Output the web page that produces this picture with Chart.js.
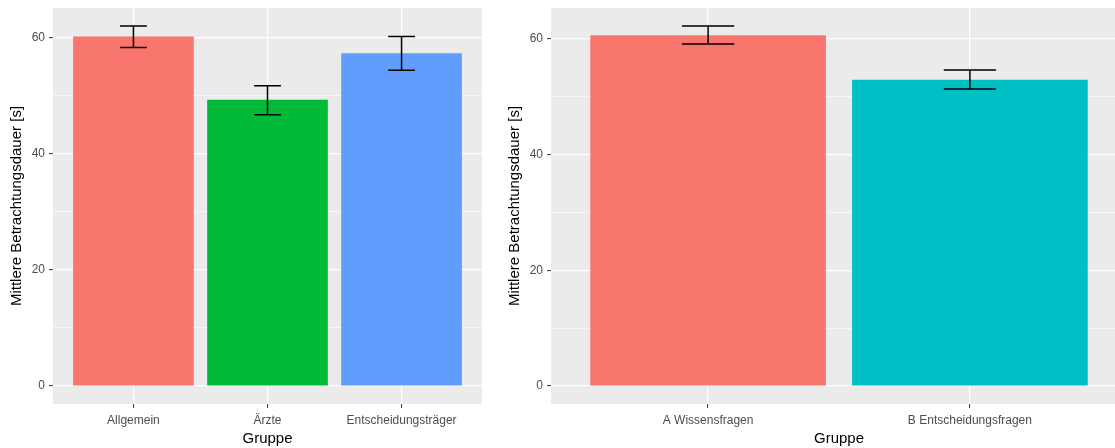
<!DOCTYPE html>
<html lang="de">
<head>
<meta charset="utf-8">
<title>Mittlere Betrachtungsdauer nach Gruppe</title>
<script src="https://cdn.jsdelivr.net/npm/chart.js@4/dist/chart.umd.min.js"></script>
<style>
  html, body { margin: 0; padding: 0; background: #ffffff; }
  body { width: 1115px; height: 448px; overflow: hidden; position: relative; }
  canvas { position: absolute; top: 0; }
  #left { left: 0; }
  #right { left: 498px; }
</style>
</head>
<body>
<canvas id="left" width="490" height="448"></canvas>
<canvas id="right" width="640" height="448"></canvas>
<script>
// Gruppen (links)
const groupsLeft = ['Allgemein', 'Ärzte', 'Entscheidungsträger'];
const meansLeft = [60.2, 49.3, 57.3];
const lowerLeft = [58.3, 46.7, 54.4];
const upperLeft = [62.0, 51.7, 60.2];
const colorsLeft = ['#F8766D', '#00BA38', '#619CFF'];

// Fragetypen (rechts)
const groupsRight = ['A Wissensfragen', 'B Entscheidungsfragen'];
const meansRight = [60.6, 52.9];
const lowerRight = [59.1, 51.3];
const upperRight = [62.2, 54.6];
const colorsRight = ['#F8766D', '#00BFC4'];

// Achsenbeschriftung
const yTicks = [0, 20, 40, 60];
const yMinorTicks = [10, 30, 50];
const yTitle = 'Mittlere Betrachtungsdauer [s]';
const xTitle = 'Gruppe';

const FONT = '"Liberation Sans", Arial, sans-serif';

// grey panel behind the plot area
const panelBg = {
  id: 'panelBg',
  beforeDraw(chart) {
    const { ctx, chartArea: a } = chart;
    ctx.save();
    ctx.fillStyle = '#ffffff';
    ctx.fillRect(0, 0, chart.width, chart.height);
    ctx.fillStyle = '#EBEBEB';
    ctx.fillRect(a.left, a.top, a.right - a.left, a.bottom - a.top);
    ctx.restore();
  }
};

// error bars (mean ± interval) with caps of 0.2 category widths
const errorBars = {
  id: 'errorBars',
  afterDatasetsDraw(chart, args, opts) {
    const { ctx } = chart;
    const xs = chart.scales.x, ys = chart.scales.y;
    ctx.save();
    ctx.strokeStyle = '#000000';
    ctx.lineWidth = 1.5;
    opts.lower.forEach((lo, i) => {
      const hi = opts.upper[i];
      const x = xs.getPixelForValue(i);
      const half = xs.getPixelForValue(i + 0.1) - x;
      const yl = ys.getPixelForValue(lo);
      const yh = ys.getPixelForValue(hi);
      ctx.beginPath();
      ctx.moveTo(x, yl); ctx.lineTo(x, yh);
      ctx.moveTo(x - half, yh); ctx.lineTo(x + half, yh);
      ctx.moveTo(x - half, yl); ctx.lineTo(x + half, yl);
      ctx.stroke();
    });
    ctx.restore();
  }
};

function makeChart(id, groups, means, lower, upper, colors, rightPad) {
  const n = groups.length;
  const yMax = Math.max(...upper);
  const pad = yMax * 0.05;
  return new Chart(document.getElementById(id), {
    type: 'bar',
    data: {
      datasets: [{
        data: means.map((v, i) => ({ x: i, y: v })),
        backgroundColor: colors,
        borderWidth: 0,
        barPercentage: 0.9,
        categoryPercentage: 1.0
      }]
    },
    options: {
      responsive: false,
      animation: false,
      devicePixelRatio: 1,
      layout: { padding: { top: 8, right: rightPad, left: 0, bottom: 0 } },
      plugins: {
        legend: { display: false },
        tooltip: { enabled: false },
        errorBars: { lower, upper }
      },
      scales: {
        x: {
          type: 'linear',
          min: -0.6,
          max: n - 1 + 0.6,
          offset: false,
          afterBuildTicks: s => { s.ticks = groups.map((g, i) => ({ value: i })); },
          afterFit: s => { s.height = 44; s.paddingLeft = 0; s.paddingRight = 0; },
          border: { display: false },
          grid: {
            offset: false,
            color: '#ffffff',
            lineWidth: 1.2,
            tickColor: '#333333',
            tickLength: 4,
            tickWidth: 1
          },
          ticks: {
            autoSkip: false,
            maxRotation: 0,
            padding: 5,
            color: '#4D4D4D',
            font: { family: FONT, size: 12 },
            callback: v => groups[v]
          },
          title: {
            display: true,
            text: xTitle,
            color: '#000000',
            padding: { top: 0, bottom: 0 },
            font: { family: FONT, size: 15 }
          }
        },
        y: {
          min: -pad,
          max: yMax + pad,
          afterBuildTicks: s => {
            s.ticks = [...yTicks, ...yMinorTicks].sort((a, b) => a - b).map(v => ({ value: v }));
          },
          afterFit: s => { s.width = 53; s.paddingTop = 0; s.paddingBottom = 0; },
          border: { display: false },
          grid: {
            color: c => '#ffffff',
            lineWidth: c => (yTicks.includes(c.tick.value) ? 1.2 : 0.6),
            tickColor: c => (yTicks.includes(c.tick.value) ? '#333333' : 'rgba(0,0,0,0)'),
            tickLength: 4,
            tickWidth: 1
          },
          ticks: {
            padding: 4,
            color: '#4D4D4D',
            font: { family: FONT, size: 12 },
            callback: v => (yTicks.includes(v) ? String(v) : '')
          },
          title: {
            display: true,
            text: yTitle,
            color: '#000000',
            padding: { top: 8, bottom: 0 },
            font: { family: FONT, size: 15 }
          }
        }
      }
    },
    plugins: [panelBg, errorBars]
  });
}

makeChart('left', groupsLeft, meansLeft, lowerLeft, upperLeft, colorsLeft, 8);
makeChart('right', groupsRight, meansRight, lowerRight, upperRight, colorsRight, 11);
</script>
</body>
</html>
